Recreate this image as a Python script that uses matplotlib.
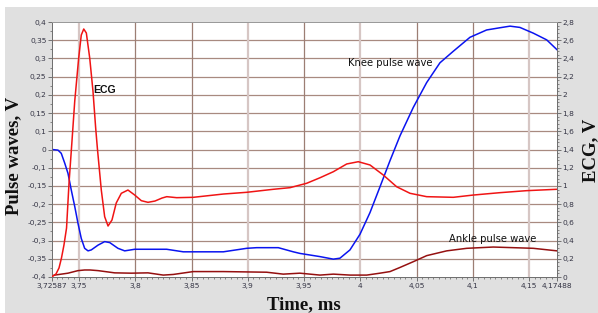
import numpy as np
import matplotlib
matplotlib.use("Agg")
import matplotlib.pyplot as plt
from matplotlib.patches import Rectangle
from matplotlib.ticker import FixedLocator, MultipleLocator

# ---------------- data ----------------
ecg_t = [3.7259, 3.7294, 3.7321, 3.7343, 3.7365, 3.7388, 3.7410, 3.7437, 3.7461, 3.7496,
         3.7519, 3.7541, 3.7564, 3.7594, 3.7623, 3.7647, 3.7662, 3.7697, 3.7727, 3.7757,
         3.7792, 3.7830, 3.7875, 3.7934, 3.7994, 3.8053, 3.8112, 3.8174, 3.8237, 3.8279,
         3.8367, 3.8515, 3.8782, 3.8990, 3.9226, 3.9375, 3.9523, 3.9642, 3.9760, 3.9879,
         3.9982, 4.0086, 4.0204, 4.0323, 4.0442, 4.0590, 4.0827, 4.1005, 4.1242, 4.1479,
         4.1746]
ecg_v = [0.005, 0.033, 0.099, 0.209, 0.351, 0.538, 1.032, 1.504, 1.933, 2.405,
         2.657, 2.723, 2.679, 2.405, 2.042, 1.636, 1.416, 0.955, 0.662, 0.560,
         0.626, 0.813, 0.919, 0.955, 0.900, 0.838, 0.820, 0.834, 0.867, 0.882,
         0.871, 0.875, 0.911, 0.930, 0.963, 0.981, 1.029, 1.090, 1.156, 1.241,
         1.266, 1.230, 1.120, 0.991, 0.919, 0.882, 0.875, 0.900, 0.926, 0.948,
         0.963]

knee_t = [3.7259, 3.7312, 3.7341, 3.7372, 3.7401, 3.7430, 3.7461, 3.7490, 3.7519, 3.7549,
          3.7579, 3.7608, 3.7668, 3.7727, 3.7772, 3.7845, 3.7905, 3.7994, 3.8112, 3.8278,
          3.8426, 3.8782, 3.8990, 3.9078, 3.9271, 3.9404, 3.9463, 3.9641, 3.9760, 3.9819,
          3.9908, 3.9997, 4.0086, 4.0175, 4.0264, 4.0353, 4.0471, 4.0590, 4.0708, 4.0826,
          4.0975, 4.1123, 4.1242, 4.1331, 4.1419, 4.1538, 4.1657, 4.1749]
knee_v = [0.0, -0.002, -0.012, -0.043, -0.075, -0.127, -0.179, -0.232, -0.279, -0.310,
          -0.318, -0.315, -0.300, -0.289, -0.292, -0.310, -0.318, -0.313, -0.313, -0.313,
          -0.321, -0.321, -0.310, -0.308, -0.308, -0.321, -0.326, -0.336, -0.344, -0.341,
          -0.315, -0.266, -0.198, -0.117, -0.035, 0.043, 0.132, 0.210, 0.272, 0.308,
          0.352, 0.375, 0.382, 0.387, 0.383, 0.365, 0.344, 0.313]

ankle_t = [3.7259, 3.7283, 3.7401, 3.7490, 3.7549, 3.7597, 3.7668, 3.7816, 3.7964, 3.8112,
           3.8248, 3.8337, 3.8515, 3.8782, 3.9167, 3.9315, 3.9463, 3.9641, 3.9760, 3.9908,
           4.0057, 4.0175, 4.0264, 4.0353, 4.0471, 4.0590, 4.0768, 4.0946, 4.1182, 4.1360,
           4.1538, 4.1749]
ankle_v = [-0.397, -0.394, -0.388, -0.380, -0.378, -0.378, -0.380, -0.387, -0.388, -0.387,
           -0.394, -0.392, -0.383, -0.383, -0.385, -0.391, -0.388, -0.394, -0.391, -0.394,
           -0.394, -0.388, -0.383, -0.370, -0.352, -0.333, -0.318, -0.310, -0.306, -0.308,
           -0.310, -0.318]

x_ticks = [3.72587, 3.75, 3.8, 3.85, 3.9, 3.95, 4.0, 4.05, 4.1, 4.15, 4.17488]
x_labels = ['3,72587', '3,75', '3,8', '3,85', '3,9', '3,95', '4', '4,05', '4,1', '4,15', '4,17488']
left_labels = ['0,4', '0,35', '0,3', '0,25', '0,2', '0,15', '0,1', '0',
               '-0,1', '-0,15', '-0,2', '-0,25', '-0,3', '-0,35', '-0,4']
right_ticks = [0, 0.2, 0.4, 0.6, 0.8, 1.0, 1.2, 1.4, 1.6, 1.8, 2.0, 2.2, 2.4, 2.6, 2.8]
right_labels = ['0', '0,2', '0,4', '0,6', '0,8', '1', '1,2', '1,4', '1,6', '1,8',
                '2', '2,2', '2,4', '2,6', '2,8']

# ---------------- figure ----------------
W, H = 598, 313
fig = plt.figure(figsize=(W / 100, H / 100), dpi=100, facecolor='white')
fig.patches.append(Rectangle((5 / W, 0), 593 / W, 306 / H, transform=fig.transFigure,
                             facecolor='#e0e0e0', edgecolor='none', zorder=-5))

L, R, T, B = 52, 557, 22, 277
ax = fig.add_axes([L / W, 1 - B / H, (R - L) / W, (B - T) / H])
ax.set_facecolor('white')
ax.set_xlim(x_ticks[0], x_ticks[-1])
ax.set_ylim(-0.4, 0.4)

ax2 = ax.twinx()
ax2.set_ylim(0, 2.8)

# grid
left_pos = np.linspace(0.4, -0.4, len(left_labels))
for yv in left_pos[1:-1]:
    ax.axhline(yv, color='#a88a80', lw=0.9, zorder=1)
light = {3.75, 3.9, 4.0, 4.15}
for xv in x_ticks[1:-1]:
    if xv in light:
        ax.axvline(xv, color='#d6c6c4', lw=1.6, zorder=1)
    else:
        ax.axvline(xv, color='#9c7e74', lw=0.9, zorder=1)

# curves
ax.plot(knee_t, knee_v, color='#0a14f0', lw=1.1, zorder=3)
ax.plot(ankle_t, ankle_v, color='#951010', lw=1.1, zorder=3)
ax2.plot(ecg_t, ecg_v, color='#f01414', lw=1.1, zorder=3)

# annotations
ax.text(3.7623, 0.187, 'ECG', fontsize=7.6, fontweight='bold', family='Liberation Sans',
        va='center', ha='left', color='#101010')
ax.text(3.9893, 0.271, 'Knee pulse wave', fontsize=7.2, family='DejaVu Sans',
        va='center', ha='left', color='#101010')
ax.text(4.0791, -0.281, 'Ankle pulse wave', fontsize=7.2, family='DejaVu Sans',
        va='center', ha='left', color='#101010')

# ticks
tick_col = '#606060'
lab_col = '#353545'
ax.set_xticks(x_ticks)
ax.set_xticklabels(x_labels)
ax.xaxis.set_minor_locator(MultipleLocator(0.005))
ax.set_yticks(left_pos)
ax.set_yticklabels(left_labels)
ax.yaxis.set_minor_locator(FixedLocator((left_pos[:-1] + left_pos[1:]) / 2))
ax2.set_yticks(right_ticks)
ax2.set_yticklabels(right_labels)
ax2.yaxis.set_minor_locator(MultipleLocator(0.04))

for a in (ax, ax2):
    a.tick_params(which='major', length=3, width=0.6, color=tick_col, labelsize=5.4,
                  labelcolor=lab_col, pad=1)
    a.tick_params(which='minor', length=1.6, width=0.5, color=tick_col)
    for s in a.spines.values():
        s.set_color('#707070')
        s.set_linewidth(0.7)
    a.spines['top'].set_color('#9a9a9a')
ax.tick_params(axis='x', pad=1.5)

# axis titles
fig.text(14 / W, 1 - 156 / H, 'Pulse waves, V', rotation=90, ha='center', va='center',
         fontsize=13.5, fontweight='bold', family='Liberation Serif', color='#101010')
fig.text(591 / W, 1 - 150 / H, 'ECG, V', rotation=90, ha='center', va='center',
         fontsize=13.5, fontweight='bold', family='Liberation Serif', color='#101010')
fig.text(304 / W, 1 - 305 / H, 'Time, ms', ha='center', va='center',
         fontsize=13.5, fontweight='bold', family='Liberation Serif', color='#101010')

fig.savefig('out.png', dpi=100, facecolor='white')
